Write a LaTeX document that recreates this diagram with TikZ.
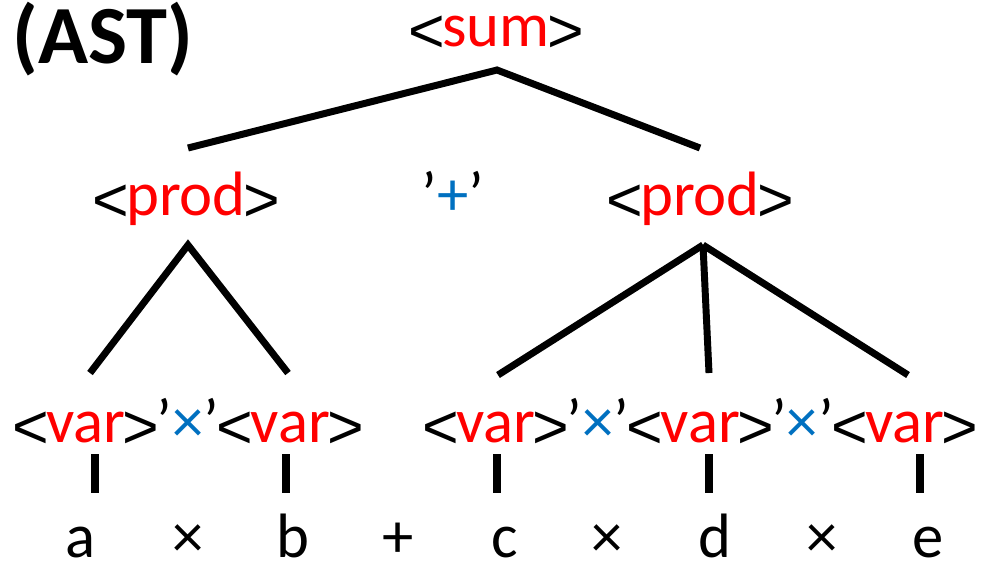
\documentclass[tikz,border=0pt]{standalone}
\usepackage{fontspec}
\setmainfont{Carlito}
\newfontfamily\ltfont{Liberation Sans}
\definecolor{ntred}{RGB}{255,0,0}
\definecolor{opblue}{RGB}{0,112,192}
\newcommand{\ltg}{\makebox[0.5em]{\raisebox{-0.1em}{\ltfont <}}}
\newcommand{\gtg}{\makebox[0.5em]{\raisebox{-0.1em}{\ltfont >}}}
\newcommand{\nt}[1]{\ltg\textcolor{ntred}{#1}\gtg}
\newcommand{\op}[1]{’\textcolor{opblue}{#1}’}
\begin{document}
\begin{tikzpicture}[x=0.75pt,y=-0.75pt,
  lbl/.style={font=\fontsize{47}{50}\selectfont, inner sep=0pt, outer sep=0pt},
  leaf/.style={lbl, text depth=0pt, anchor=base},
  edge/.style={line width=5.2pt, black},
  shade/.style={line width=5.2pt, black!25, opacity=0.5},
  tick/.style={line width=6pt, black},
  tickshade/.style={line width=6pt, black!25, opacity=0.5}]
\useasboundingbox (0,0) rectangle (988,562);
% title
\node[lbl, font=\fontsize{62}{66}\selectfont\bfseries, anchor=base] (title) at (103,63) {(AST)};
% level 0
\node[lbl, anchor=base] (sum) at (496,46) {\nt{sum}};
% level 1
\node[lbl, anchor=base] (prodL) at (186,215) {\nt{prod}};
\node[lbl, anchor=base] (plus) at (453,215) {\op{+}};
\node[lbl, anchor=base] (prodR) at (700,215) {\nt{prod}};
% level 2
\node[lbl, anchor=base west] (va) at (15,442) {\nt{var}};
\node[lbl, anchor=base west] (t1) at (va.base east) {\op{×}};
\node[lbl, anchor=base west] (vb) at (t1.base east) {\nt{var}};
\node[lbl, anchor=base west] (vc) at (425,442) {\nt{var}};
\node[lbl, anchor=base west] (t2) at (vc.base east) {\op{×}};
\node[lbl, anchor=base west] (vd) at (t2.base east) {\nt{var}};
\node[lbl, anchor=base west] (t3) at (vd.base east) {\op{×}};
\node[lbl, anchor=base west] (ve) at (t3.base east) {\nt{var}};
% leaves
\node[leaf] (la) at (81,557) {a};
\node[leaf] (lx1) at (188,557) {×};
\node[leaf] (lb) at (293,557) {b};
\node[leaf] (lp) at (398,557) {+};
\node[leaf] (lc) at (505,557) {c};
\node[leaf] (lx2) at (607,557) {×};
\node[leaf] (ld) at (715,557) {d};
\node[leaf] (lx3) at (822,557) {×};
\node[leaf] (le) at (928,557) {e};
% connector endpoints
\coordinate (sumB) at (497,70);
\coordinate (prodLT) at (188,148);
\coordinate (prodRT) at (700,148);
\coordinate (prodLB) at (188,245);
\coordinate (prodRB) at (703,245);
\coordinate (vaT) at (90,373);
\coordinate (vbT) at (288,373);
\coordinate (vcT) at (498,375);
\coordinate (vdT) at (709,373);
\coordinate (veT) at (908,375);
\coordinate (vaB) at (95,454);
\coordinate (vbB) at (286,454);
\coordinate (vcB) at (497,454);
\coordinate (vdB) at (709,454);
\coordinate (veB) at (920,454);
\coordinate (laT) at (95,493);
\coordinate (lbT) at (286,493);
\coordinate (lcT) at (497,493);
\coordinate (ldT) at (709,493);
\coordinate (leT) at (920,493);
% shadows
\begin{scope}[shift={(2,3)}]
\draw[shade] (prodLT) -- (sumB) -- (prodRT);
\draw[shade] (vaT) -- (prodLB) -- (vbT);
\draw[shade] (prodRB) -- (vcT);
\draw[shade] (prodRB) -- (vdT);
\draw[shade] (prodRB) -- (veT);
\foreach \t/\b in {vaB/laT,vbB/lbT,vcB/lcT,vdB/ldT,veB/leT}
  \draw[tickshade] (\t) -- (\b);
\end{scope}
% edges
\draw[edge] (prodLT) -- (sumB) -- (prodRT);
\draw[edge] (vaT) -- (prodLB) -- (vbT);
\draw[edge] (prodRB) -- (vcT);
\draw[edge] (prodRB) -- (vdT);
\draw[edge] (prodRB) -- (veT);
\foreach \t/\b in {vaB/laT,vbB/lbT,vcB/lcT,vdB/ldT,veB/leT}
  \draw[tick] (\t) -- (\b);
\end{tikzpicture}
\end{document}
